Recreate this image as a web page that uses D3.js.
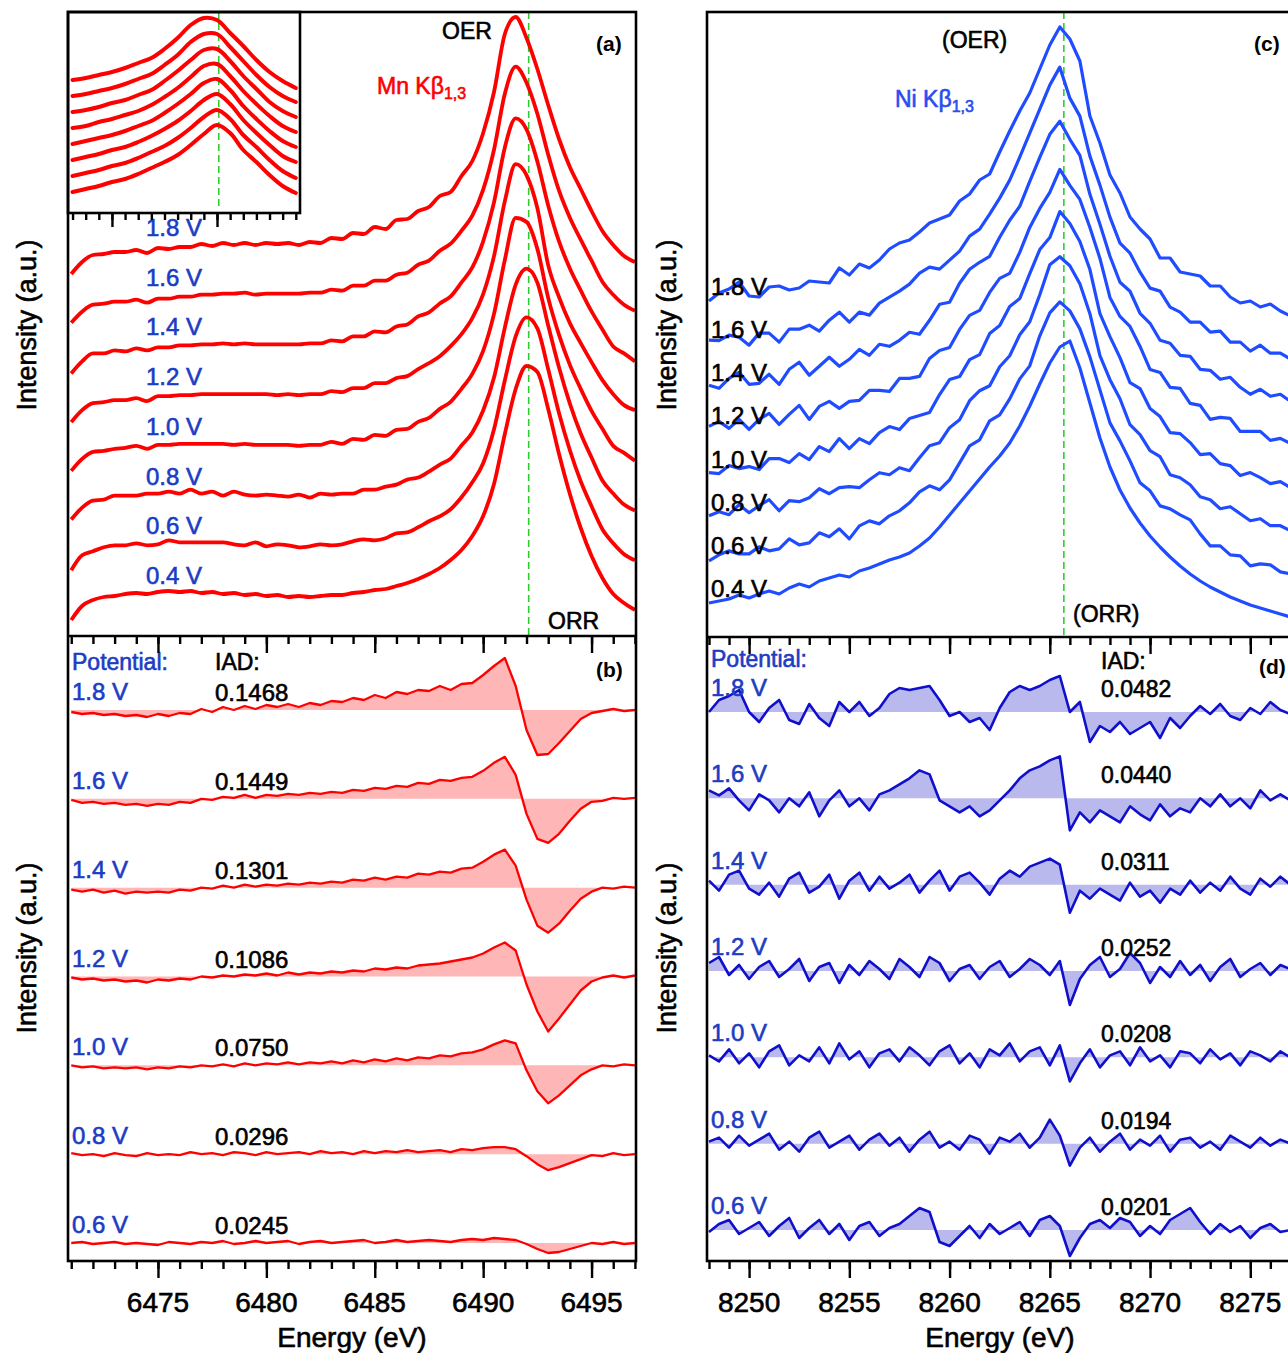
<!DOCTYPE html>
<html>
<head>
<meta charset="utf-8">
<script src="https://cdn.jsdelivr.net/npm/d3@7"></script>
<style>
    body { margin: 0; background: #fff; }
    svg { display: block; font-family: "Liberation Sans", Arial, sans-serif; }
</style>
</head>
<body>
<svg id="fig" width="1288" height="1353"></svg>
<script>
// ---- data ----
var potentialsUp = ['0.4', '0.6', '0.8', '1.0', '1.2', '1.4', '1.6', '1.8'];
var potentialsDown = ['1.8', '1.6', '1.4', '1.2', '1.0', '0.8', '0.6'];
var mnIAD = ['0.1468', '0.1449', '0.1301', '0.1086', '0.0750', '0.0296', '0.0245'];
var niIAD = ['0.0482', '0.0440', '0.0311', '0.0252', '0.0208', '0.0194', '0.0201'];
var mnTicks = [6475, 6480, 6485, 6490, 6495];
var niTicks = [8250, 8255, 8260, 8265, 8270, 8275];
var insetTicks = [6486, 6492];
var mnPeakLine = 6492.1;
var niPeakLine = 8265.7;

var mnEnergy = [6471, 6471.5, 6472, 6472.5, 6473, 6473.5, 6474, 6474.5, 6475, 6475.5,
    6476, 6476.5, 6477, 6477.5, 6478, 6478.5, 6479, 6479.5, 6480, 6480.5,
    6481, 6481.5, 6482, 6482.5, 6483, 6483.5, 6484, 6484.5, 6485, 6485.5,
    6486, 6486.5, 6487, 6487.5, 6488, 6488.5, 6489, 6489.5, 6490, 6490.5,
    6491, 6491.5, 6492, 6492.5, 6493, 6493.5, 6494, 6494.5, 6495, 6495.5,
    6496, 6496.5, 6497];
// Mn K-beta at 0.4 V (reference)
var mnRef = [-26, -12, -6, -3, -2, 0, 1, 0, 2, 3, 2, 3, 1, 2, 0, 1, -1, 0, -2, -1,
    -3, -2, -3, -2, -1, -1, 1, 2, 4, 5, 8, 11, 15, 20, 26, 34, 44, 58, 78, 110,
    160, 205, 228, 222, 185, 140, 100, 66, 38, 16, 0, -9, -16];
// difference spectra (potential - 0.4 V)
var mnDiff18 = [-2, -4, -3, -5, -4, -6, -5, -7, -4, -6, -3, -4, 1, -2, 3, 0, 4, 1, 5, 3,
    6, 3, 7, 5, 9, 8, 12, 10, 15, 12, 18, 16, 20, 19, 24, 20, 26, 27, 35, 44,
    52, 24, -20, -45, -44, -33, -21, -9, -3, -1, 1, -1, 0];
var mnDiff16 = [-1, -4, -3, -5, -4, -6, -5, -7, -5, -6, -3, -4, 0, -1, 2, 1, 4, 1, 4, 3,
    5, 4, 6, 5, 7, 6, 9, 8, 11, 10, 13, 12, 16, 15, 19, 18, 21, 22, 28, 36,
    42, 24, -15, -40, -44, -35, -22, -10, -3, -2, 1, 0, 1];
var mnDiff14 = [-2, -4, -2, -5, -3, -6, -4, -5, -4, -5, -2, -3, 0, -1, 2, 0, 3, 1, 3, 2,
    4, 3, 5, 4, 6, 5, 8, 7, 10, 8, 11, 10, 14, 13, 16, 15, 19, 20, 26, 33,
    38, 22, -12, -38, -45, -36, -23, -11, -4, 0, -1, 1, 0];
var mnDiff12 = [-1, -3, -2, -4, -3, -5, -4, -6, -3, -4, -2, -3, 0, -1, 1, 0, 2, 1, 3, 1,
    4, 2, 4, 3, 5, 4, 6, 5, 8, 7, 9, 8, 11, 12, 13, 15, 17, 19, 23, 29,
    34, 26, -8, -35, -55, -42, -28, -14, -5, -1, 1, -1, 1];
var mnDiff10 = [0, -2, -1, -3, -2, -3, -2, -4, -2, -3, -1, -2, 0, -1, 1, -1, 2, 0, 2, 1,
    3, 1, 3, 2, 4, 2, 5, 3, 6, 4, 7, 5, 8, 7, 10, 9, 12, 13, 16, 21,
    25, 22, -5, -26, -38, -30, -20, -10, -4, 0, -1, 1, 0];
var mnDiff08 = [1, -1, 0, -2, 1, -1, -2, 1, -1, 0, -1, 2, 0, 1, -1, 2, 1, -1, 2, 0,
    1, 2, 0, 3, 1, 2, 0, 3, 1, 3, 2, 4, 2, 3, 4, 2, 5, 4, 6, 7,
    7, 5, -2, -10, -16, -13, -9, -5, -1, -2, 1, -1, 0];
var mnDiff06 = [0, 1, -1, 0, 1, -1, 0, -1, -2, 1, 0, -1, 1, 0, 2, -1, 0, 2, 0, 1,
    2, -1, 1, 2, 0, 1, 2, 3, 0, 1, 3, 1, 2, 3, 2, 1, 3, 4, 3, 5,
    4, 3, -1, -6, -10, -9, -6, -3, 0, -1, 1, -1, 0];

// inset: peak region, each curve relative to its own left end
var insetEnergy = [6483.75, 6484.5, 6485.25, 6486, 6486.75, 6487.5, 6488.25, 6489, 6489.75,
    6490.5, 6491.25, 6492, 6492.75, 6493.5, 6494.25, 6495, 6495.75, 6496.5];
var inset04 = [0, 3, 6, 10, 13, 18, 24, 30, 37, 47, 58, 67, 59, 42, 30, 17, 6, -1];
var inset06 = [0, 3, 6, 10, 13, 18, 24, 30, 38, 48, 59, 66, 57, 41, 29, 16, 5, -2];
var inset08 = [0, 3, 6, 10, 13, 18, 24, 31, 39, 49, 60, 66, 56, 40, 27, 15, 4, -2];
var inset10 = [0, 3, 6, 9, 13, 18, 23, 31, 40, 50, 61, 65, 54, 38, 25, 13, 3, -3];
var inset12 = [0, 2, 6, 9, 13, 17, 23, 31, 40, 51, 62, 64, 52, 37, 24, 12, 2, -4];
var inset14 = [0, 2, 5, 9, 12, 17, 22, 31, 41, 52, 62, 63, 51, 36, 23, 10, 1, -5];
var inset16 = [0, 2, 5, 8, 12, 17, 22, 31, 41, 54, 62, 62, 49, 35, 21, 9, 0, -6];
var inset18 = [0, 2, 5, 8, 12, 17, 22, 31, 42, 55, 62, 60, 47, 34, 20, 8, -1, -8];

var niEnergy = [8248, 8248.5, 8249, 8249.5, 8250, 8250.5, 8251, 8251.5, 8252, 8252.5,
    8253, 8253.5, 8254, 8254.5, 8255, 8255.5, 8256, 8256.5, 8257, 8257.5,
    8258, 8258.5, 8259, 8259.5, 8260, 8260.5, 8261, 8261.5, 8262, 8262.5,
    8263, 8263.5, 8264, 8264.5, 8265, 8265.5, 8266, 8266.5, 8267, 8267.5,
    8268, 8268.5, 8269, 8269.5, 8270, 8270.5, 8271, 8271.5, 8272, 8272.5,
    8273, 8273.5, 8274, 8274.5, 8275, 8275.5, 8276, 8276.5, 8277];
// Ni K-beta at 0.4 V (reference)
var niRef = [0, 4, 8, 16, 10, 18, 24, 18, 30, 38, 32, 44, 50, 56, 52, 64, 70, 78, 86, 92,
    100, 114, 130, 152, 176, 200, 224, 248, 272, 294, 320, 354, 394, 438, 480, 512, 524, 470, 400, 330,
    272, 226, 190, 160, 134, 112, 92, 74, 58, 44, 32, 22, 12, 4, -4, -10, -16, -22, -28];
var niDiff18 = [0, 12, 16, 22, 0, -10, 4, 12, -8, -12, 8, -6, -14, 10, 0, 10, -4, 4, 18, 24,
    22, 24, 26, 12, -4, 0, -10, -6, -18, 4, 20, 26, 22, 26, 32, 36, 0, 10, -30, -14,
    -20, -10, -22, -16, -10, -26, -6, -16, -4, 6, -2, 8, -4, -8, 4, -2, 10, 2, -2];
var niDiff16 = [8, 3, 10, -2, -12, 4, -2, -14, 0, -8, 6, -18, -2, 8, -8, 0, -12, 4, 8, 14,
    20, 28, 24, -2, -8, -14, -8, -18, -12, -2, 8, 20, 28, 32, 38, 42, -32, -14, -24, -12,
    -18, -24, -8, -16, -22, -6, -18, -10, -14, 0, -8, 4, -8, 0, -10, 8, -2, 4, -2];
var niDiff14 = [4, -6, 10, 14, -4, -10, 2, -12, 6, 12, -8, -2, 10, -14, 4, 12, -6, 8, -4, 2,
    10, -8, 4, 14, -6, 8, 12, 2, -10, 6, 14, 8, 18, 22, 26, 20, -28, -6, -14, -4,
    -10, -16, 2, -12, -6, -18, -4, -10, 4, -8, 2, -6, 8, -4, -10, 6, -2, 8, 0];
var niDiff12 = [8, 14, -4, 6, -8, 4, 10, -6, 2, 12, -10, 4, 8, -12, 6, -4, 10, 2, -8, 12,
    4, -6, 14, 8, -10, 2, 6, -8, 4, 10, -6, 2, 12, 6, -4, 10, -34, -8, 6, 14,
    -6, 2, 18, 8, -12, 4, -6, 10, -4, 6, -10, 4, 12, -6, 2, 8, -4, 6, 2];
var niDiff10 = [2, -4, 8, -6, 4, -10, 6, 12, -8, 2, -4, 10, -6, 14, -2, 6, -10, 4, 8, -4,
    10, 2, -8, 6, 12, -6, 4, -10, 8, 2, 14, -4, 6, 10, -8, 12, -24, -6, 8, -10,
    2, 6, -8, 10, -4, 2, -10, 6, 4, -6, 8, -2, 4, -8, 6, 2, -4, 6, 0];
var niDiff08 = [2, 6, -4, 8, -2, 4, 10, -6, 2, -8, 6, 12, -4, 2, 8, -6, 4, 10, -2, 6,
    -8, 4, 12, -4, 2, -6, 8, 4, -10, 6, 2, 10, -4, 6, 24, 8, -22, -4, 6, -8,
    2, 10, -6, 4, -2, 8, -8, 4, 6, -4, 2, -6, 8, 2, -4, 6, -2, 4, 0];
var niDiff06 = [-2, 6, 10, -4, 2, 8, -6, 4, 12, -8, 2, 10, -4, 6, -10, 4, 8, -6, 2, 6,
    14, 22, 18, -12, -16, -6, 4, -8, 6, -4, 2, 8, -6, 10, 14, 4, -26, -8, 6, 10,
    2, 12, 8, -6, 4, -4, 10, 16, 22, 8, -4, 6, -2, 4, -8, 2, 6, -2, 0];

var mnDiffs = { '1.8': mnDiff18, '1.6': mnDiff16, '1.4': mnDiff14, '1.2': mnDiff12,
    '1.0': mnDiff10, '0.8': mnDiff08, '0.6': mnDiff06 };
var niDiffs = { '1.8': niDiff18, '1.6': niDiff16, '1.4': niDiff14, '1.2': niDiff12,
    '1.0': niDiff10, '0.8': niDiff08, '0.6': niDiff06 };
var insetCurves = { '0.4': inset04, '0.6': inset06, '0.8': inset08, '1.0': inset10,
    '1.2': inset12, '1.4': inset14, '1.6': inset16, '1.8': inset18 };

// ---- colours ----
var RED = '#ff0000', RED_FILL = '#ffb6b6';
var BLUE = '#1f4cff', NAVY = '#0f0fcc', BLUE_FILL = '#b9b9ee';
var LABEL_BLUE = '#1c3cc4', GREEN = '#2ecc2e';

function spectrum(energy, ref, diffs, p) {
    var diff = diffs[p];
    return energy.map(function (e, i) {
        return { e: e, v: ref[i] + (diff ? diff[i] : 0) };
    });
}
function difference(energy, diffs, p) {
    return energy.map(function (e, i) {
        return { e: e, v: diffs[p][i] };
    });
}

var svg = d3.select('#fig');
var defs = svg.append('defs');

function addClip(id, x, y, w, h) {
    defs.append('clipPath').attr('id', id)
        .append('rect').attr('x', x).attr('y', y).attr('width', w).attr('height', h);
}

function addTicks(parent, scale, y, minor, major, minorLen, majorLen) {
    [[minor, minorLen], [major, majorLen]].forEach(function (t) {
        parent.append('g')
            .attr('transform', 'translate(0,' + y + ')')
            .call(d3.axisBottom(scale).tickValues(t[0]).tickSize(t[1]).tickSizeOuter(0).tickFormat(''))
            .call(function (g) {
                g.select('.domain').remove();
                g.selectAll('.tick line').attr('stroke', '#000').attr('stroke-width', 2.4);
            });
    });
}

function addText(parent, x, y, str, opts) {
    opts = opts || {};
    var color = opts.color || '#000';
    return parent.append('text')
        .attr('x', x).attr('y', y)
        .attr('font-size', opts.size || 24)
        .attr('font-weight', opts.weight || 'normal')
        .attr('fill', color)
        .attr('stroke', color).attr('stroke-width', opts.weight ? 0 : 0.6)
        .attr('text-anchor', opts.anchor || 'start')
        .text(str);
}

// ---- scales ----
var xMn = d3.scaleLinear().domain([6470.85, 6497.05]).range([68, 636]);
var xNi = d3.scaleLinear().domain([8247.9, 8277.43]).range([707, 1299]);
var xInset = d3.scaleLinear().domain([6483.49, 6496.74]).range([68, 300]);

var yA = d3.scaleLinear().domain([0, 100]).range([594, 494]);
var stackA = d3.scalePoint().domain(potentialsUp).range([0, -348]);
var yIn = d3.scaleLinear().domain([0, 100]).range([0, -100]);
var stackIn = d3.scalePoint().domain(potentialsUp).range([192, 80]);
var yB = d3.scaleLinear().domain([0, 100]).range([0, -100]);
var baseB = d3.scalePoint().domain(potentialsDown).range([710, 1243]);

var yC = d3.scaleLinear().domain([0, 200]).range([603, 503]);
var stackC = d3.scalePoint().domain(potentialsUp).range([0, -302]);
var yD = d3.scaleLinear().domain([0, 100]).range([0, -100]);
var baseD = d3.scalePoint().domain(potentialsDown).range([712, 1230]);

addClip('clipA', 68, 12, 568, 624);
addClip('clipB', 68, 636, 568, 625);
addClip('clipIn', 68, 12, 232, 201);
addClip('clipC', 707, 12, 600, 625);
addClip('clipD', 707, 637, 600, 624);

// ---- panel (a) ----
function drawPanelA() {
    var g = svg.append('g').attr('class', 'panel-a');
    var curves = g.append('g').attr('clip-path', 'url(#clipA)');

    curves.append('line')
        .attr('x1', xMn(mnPeakLine)).attr('x2', xMn(mnPeakLine))
        .attr('y1', 12).attr('y2', 636)
        .attr('stroke', GREEN).attr('stroke-width', 1.6).attr('stroke-dasharray', '7,4');

    potentialsUp.forEach(function (p) {
        var line = d3.line()
            .x(function (d) { return xMn(d.e); })
            .y(function (d) { return yA(d.v) + stackA(p); })
            .curve(d3.curveMonotoneX);
        curves.append('path')
            .datum(spectrum(mnEnergy, mnRef, mnDiffs, p))
            .attr('d', line)
            .attr('fill', 'none').attr('stroke', RED).attr('stroke-width', 3.8)
            .attr('stroke-linejoin', 'round');
        addText(g, 146, yA(0) + stackA(p) - 10, p + ' V', { color: LABEL_BLUE, size: 24 });
    });

    addText(g, 442, 39, 'OER', { size: 23 });
    var mn = addText(g, 377, 94, 'Mn K\u03b2', { color: RED, size: 23 });
    mn.append('tspan').attr('font-size', 16).attr('dy', 5).text('1,3');
    addText(g, 548, 629, 'ORR', { size: 23 });
    addText(g, 596, 51, '(a)', { size: 21, weight: 'bold' });

    // inset
    var inset = g.append('g').attr('class', 'inset');
    inset.append('rect').attr('x', 68).attr('y', 12).attr('width', 232).attr('height', 201)
        .attr('fill', '#fff');
    var ic = inset.append('g').attr('clip-path', 'url(#clipIn)');
    ic.append('line')
        .attr('x1', xInset(mnPeakLine)).attr('x2', xInset(mnPeakLine))
        .attr('y1', 12).attr('y2', 206)
        .attr('stroke', GREEN).attr('stroke-width', 1.6).attr('stroke-dasharray', '7,4');
    potentialsUp.forEach(function (p) {
        var pts = insetEnergy.map(function (e, i) { return { e: e, v: insetCurves[p][i] }; });
        ic.append('path')
            .datum(pts)
            .attr('d', d3.line()
                .x(function (d) { return xInset(d.e); })
                .y(function (d) { return yIn(d.v) + stackIn(p); })
                .curve(d3.curveCatmullRom))
            .attr('fill', 'none').attr('stroke', RED).attr('stroke-width', 4)
            .attr('stroke-linecap', 'round');
    });
    inset.append('rect').attr('x', 68).attr('y', 12).attr('width', 232).attr('height', 201)
        .attr('fill', 'none').attr('stroke', '#000').attr('stroke-width', 2.6);
    addTicks(inset, xInset, 213, d3.range(6483.75, 6496.6, 0.75), insetTicks, 7, 14);
}

// ---- panel (b) ----
function drawPanelB() {
    var g = svg.append('g').attr('class', 'panel-b');
    var curves = g.append('g').attr('clip-path', 'url(#clipB)');
    potentialsDown.forEach(function (p, i) {
        var row = curves.append('g').attr('transform', 'translate(0,' + baseB(p) + ')');
        var data = difference(mnEnergy, mnDiffs, p);
        row.append('path').datum(data)
            .attr('d', d3.area()
                .x(function (d) { return xMn(d.e); })
                .y0(yB(0))
                .y1(function (d) { return yB(d.v); }))
            .attr('fill', RED_FILL);
        row.append('path').datum(data)
            .attr('d', d3.line()
                .x(function (d) { return xMn(d.e); })
                .y(function (d) { return yB(d.v); }))
            .attr('fill', 'none').attr('stroke', RED).attr('stroke-width', 2.3)
            .attr('stroke-linejoin', 'round');
        addText(g, 72, baseB(p) - 10, p + ' V', { color: LABEL_BLUE, size: 24 });
        addText(g, 215, baseB(p) - 9, mnIAD[i], { size: 24 });
    });
    addText(g, 72, 670, 'Potential:', { color: LABEL_BLUE, size: 23 });
    addText(g, 215, 670, 'IAD:', { size: 23 });
    addText(g, 596, 677, '(b)', { size: 21, weight: 'bold' });
}

// ---- panel (c) ----
function drawPanelC() {
    var g = svg.append('g').attr('class', 'panel-c');
    var curves = g.append('g').attr('clip-path', 'url(#clipC)');
    curves.append('line')
        .attr('x1', xNi(niPeakLine)).attr('x2', xNi(niPeakLine))
        .attr('y1', 12).attr('y2', 637)
        .attr('stroke', GREEN).attr('stroke-width', 1.6).attr('stroke-dasharray', '7,4');
    potentialsUp.forEach(function (p) {
        curves.append('path')
            .datum(spectrum(niEnergy, niRef, niDiffs, p))
            .attr('d', d3.line()
                .x(function (d) { return xNi(d.e); })
                .y(function (d) { return yC(d.v) + stackC(p); }))
            .attr('fill', 'none').attr('stroke', BLUE).attr('stroke-width', 3.2)
            .attr('stroke-linejoin', 'round');
        addText(g, 711, yC(0) + stackC(p) - 6, p + ' V', { size: 24 });
    });
    addText(g, 942, 48, '(OER)', { size: 23 });
    var ni = addText(g, 895, 107, 'Ni K\u03b2', { color: '#2a4df0', size: 23 });
    ni.append('tspan').attr('font-size', 16).attr('dy', 5).text('1,3');
    addText(g, 1073, 622, '(ORR)', { size: 23 });
    addText(g, 1254, 51, '(c)', { size: 21, weight: 'bold' });
}

// ---- panel (d) ----
function drawPanelD() {
    var g = svg.append('g').attr('class', 'panel-d');
    var curves = g.append('g').attr('clip-path', 'url(#clipD)');
    potentialsDown.forEach(function (p, i) {
        var row = curves.append('g').attr('transform', 'translate(0,' + baseD(p) + ')');
        var data = difference(niEnergy, niDiffs, p);
        row.append('path').datum(data)
            .attr('d', d3.area()
                .x(function (d) { return xNi(d.e); })
                .y0(yD(0))
                .y1(function (d) { return yD(d.v); }))
            .attr('fill', BLUE_FILL);
        row.append('path').datum(data)
            .attr('d', d3.line()
                .x(function (d) { return xNi(d.e); })
                .y(function (d) { return yD(d.v); }))
            .attr('fill', 'none').attr('stroke', NAVY).attr('stroke-width', 2.6)
            .attr('stroke-linejoin', 'round');
        addText(g, 711, baseD(p) - 16, p + ' V', { color: LABEL_BLUE, size: 24 });
        addText(g, 1101, baseD(p) - 15, niIAD[i], { size: 23 });
    });
    addText(g, 711, 667, 'Potential:', { color: LABEL_BLUE, size: 23 });
    addText(g, 1101, 669, 'IAD:', { size: 23 });
    addText(g, 1259, 674, '(d)', { size: 21, weight: 'bold' });
}

// ---- frames, ticks, axis titles ----
function drawFrames() {
    var g = svg.append('g').attr('class', 'frames');
    g.append('rect').attr('x', 68).attr('y', 12).attr('width', 568).attr('height', 1249)
        .attr('fill', 'none').attr('stroke', '#000').attr('stroke-width', 2.6);
    g.append('line').attr('x1', 68).attr('x2', 636).attr('y1', 636).attr('y2', 636)
        .attr('stroke', '#000').attr('stroke-width', 2.6);
    g.append('rect').attr('x', 707).attr('y', 12).attr('width', 700).attr('height', 1249)
        .attr('fill', 'none').attr('stroke', '#000').attr('stroke-width', 2.6);
    g.append('line').attr('x1', 707).attr('x2', 1300).attr('y1', 637).attr('y2', 637)
        .attr('stroke', '#000').attr('stroke-width', 2.6);

    var mnMinor = d3.range(6471, 6497.01, 1);
    var niMinor = d3.range(8248, 8277.01, 1);
    addTicks(g, xMn, 636, mnMinor, mnTicks, 8, 17);
    addTicks(g, xMn, 1261, mnMinor, mnTicks, 8, 17);
    addTicks(g, xNi, 637, niMinor, niTicks, 8, 17);
    addTicks(g, xNi, 1261, niMinor, niTicks, 8, 17);

    mnTicks.forEach(function (d) {
        addText(g, xMn(d), 1312, d, { size: 28, anchor: 'middle' });
    });
    niTicks.forEach(function (d) {
        addText(g, xNi(d), 1312, d, { size: 28, anchor: 'middle' });
    });

    addText(g, 352, 1347, 'Energy (eV)', { size: 28, anchor: 'middle' });
    addText(g, 1000, 1347, 'Energy (eV)', { size: 28, anchor: 'middle' });

    [[36, 325], [36, 948], [676, 325], [676, 948]].forEach(function (pos) {
        g.append('text')
            .attr('transform', 'translate(' + pos[0] + ',' + pos[1] + ') rotate(-90)')
            .attr('text-anchor', 'middle').attr('font-size', 27)
            .attr('stroke', '#000').attr('stroke-width', 0.6)
            .text('Intensity (a.u.)');
    });
}

drawPanelA();
drawPanelB();
drawPanelC();
drawPanelD();
drawFrames();
</script>
</body>
</html>
